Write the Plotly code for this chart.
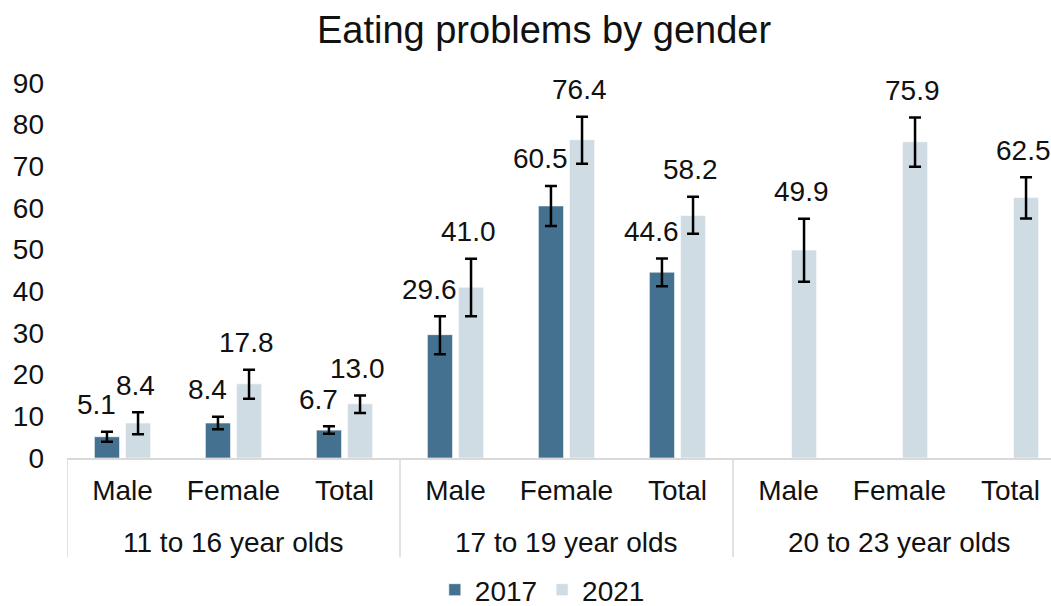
import plotly.graph_objects as go

group_names = ["11 to 16 year olds", "17 to 19 year olds", "20 to 23 year olds"]
genders = ["Male", "Female", "Total"] * 3

v2017 = [5.1, 8.4, 6.7, 29.6, 60.5, 44.6, None, None, None]
lo2017 = [3.9, 6.9, 5.8, 24.9, 55.7, 41.2, None, None, None]
hi2017 = [6.3, 9.9, 7.6, 34.0, 65.3, 47.9, None, None, None]

v2021 = [8.4, 17.8, 13.0, 41.0, 76.4, 58.2, 49.9, 75.9, 62.5]
lo2021 = [5.7, 14.2, 10.8, 34.0, 70.6, 53.8, 42.3, 69.9, 57.5]
hi2021 = [11.0, 21.2, 15.0, 47.8, 81.9, 62.7, 57.4, 81.7, 67.4]

y_ticks = list(range(0, 100, 10))

FONT = "Arial, Liberation Sans, sans-serif"
C2017 = "#43718F"
C2021 = "#CFDCE4"
GRID = "#D9D9D9"
BARGAP = 0.44
xs = list(range(len(genders)))


def errs(vals, lo, hi):
    plus = [None if v is None else h - v for v, h in zip(vals, hi)]
    minus = [None if v is None else v - l for v, l in zip(vals, lo)]
    return plus, minus


p17, m17 = errs(v2017, lo2017, hi2017)
p21, m21 = errs(v2021, lo2021, hi2021)

fig = go.Figure()
fig.add_trace(go.Bar(
    name="2017", x=xs, y=v2017, marker_color=C2017,
    marker_line=dict(color="rgba(255,255,255,0.6)", width=1),
    error_y=dict(type="data", symmetric=False, array=p17, arrayminus=m17,
                 color="black", thickness=2.5, width=6),
))
fig.add_trace(go.Bar(
    name="2021", x=xs, y=v2021, marker_color=C2021,
    marker_line=dict(color="rgba(255,255,255,0.6)", width=1),
    error_y=dict(type="data", symmetric=False, array=p21, arrayminus=m21,
                 color="black", thickness=2.5, width=6),
))

off = (1 - BARGAP) / 4
for vals, hi, sign, xsh in [(v2017, hi2017, -1, -10), (v2021, hi2021, 1, -3)]:
    for i, (v, h) in enumerate(zip(vals, hi)):
        if v is None:
            continue
        fig.add_annotation(
            x=i + sign * off, y=h, text=f"{v:.1f}", showarrow=False,
            yanchor="middle", yshift=27, xshift=xsh,
            font=dict(family=FONT, size=28, color="#111"),
        )

# group labels and dividers
n_per = 3
plot_h = 606 - 83 - 148
for g, name in enumerate(group_names):
    fig.add_annotation(
        x=g * n_per + (n_per - 1) / 2, y=-(542 - 458) / plot_h, yref="paper",
        text=name, showarrow=False, yanchor="middle",
        font=dict(family=FONT, size=28, color="#111"),
    )
for g in range(len(group_names) + 1):
    xd = g * n_per - 0.5
    fig.add_shape(type="line", x0=xd, x1=xd, y0=0, y1=-(557 - 458) / plot_h,
                  yref="paper", xref="x", line=dict(color=GRID, width=1.5))

fig.update_layout(
    width=1051, height=606,
    margin=dict(l=67, r=0, t=83, b=148, autoexpand=False),
    plot_bgcolor="white", paper_bgcolor="white",
    barmode="group", bargap=BARGAP, bargroupgap=0.19,
    font=dict(family=FONT, size=28, color="#111"),
    title=dict(text="Eating problems by gender", x=0.5176, xref="container",
               y=1 - 30 / 606, yref="container", yanchor="middle", xanchor="center",
               font=dict(family=FONT, size=38, color="#111")),
    showlegend=True,
    legend=dict(orientation="h", x=0.516, xref="container", xanchor="center",
                y=-(590 - 458) / plot_h, yanchor="middle", font=dict(size=28),
                traceorder="normal", itemwidth=30, tracegroupgap=0),
)
fig.update_xaxes(
    range=[-0.5, -0.5 + 984 / 111], tickvals=xs, ticktext=genders, tickangle=0,
    showline=True, linecolor=GRID, linewidth=1.5, automargin=False,
    ticks="", ticklabelstandoff=7, tickfont=dict(size=28, family=FONT, color="#111"),
    showgrid=False, zeroline=False,
)
fig.update_yaxes(
    range=[0, 90], tickvals=y_ticks, showgrid=False, zeroline=False, automargin=False,
    showline=False, ticks="", ticklabelstandoff=22,
    tickfont=dict(size=28, family=FONT, color="#111"),
)

fig.write_html(
    "out.html",
    config={"displayModeBar": False},
    post_script="document.body.style.margin='0';document.body.style.overflow='hidden';",
)
